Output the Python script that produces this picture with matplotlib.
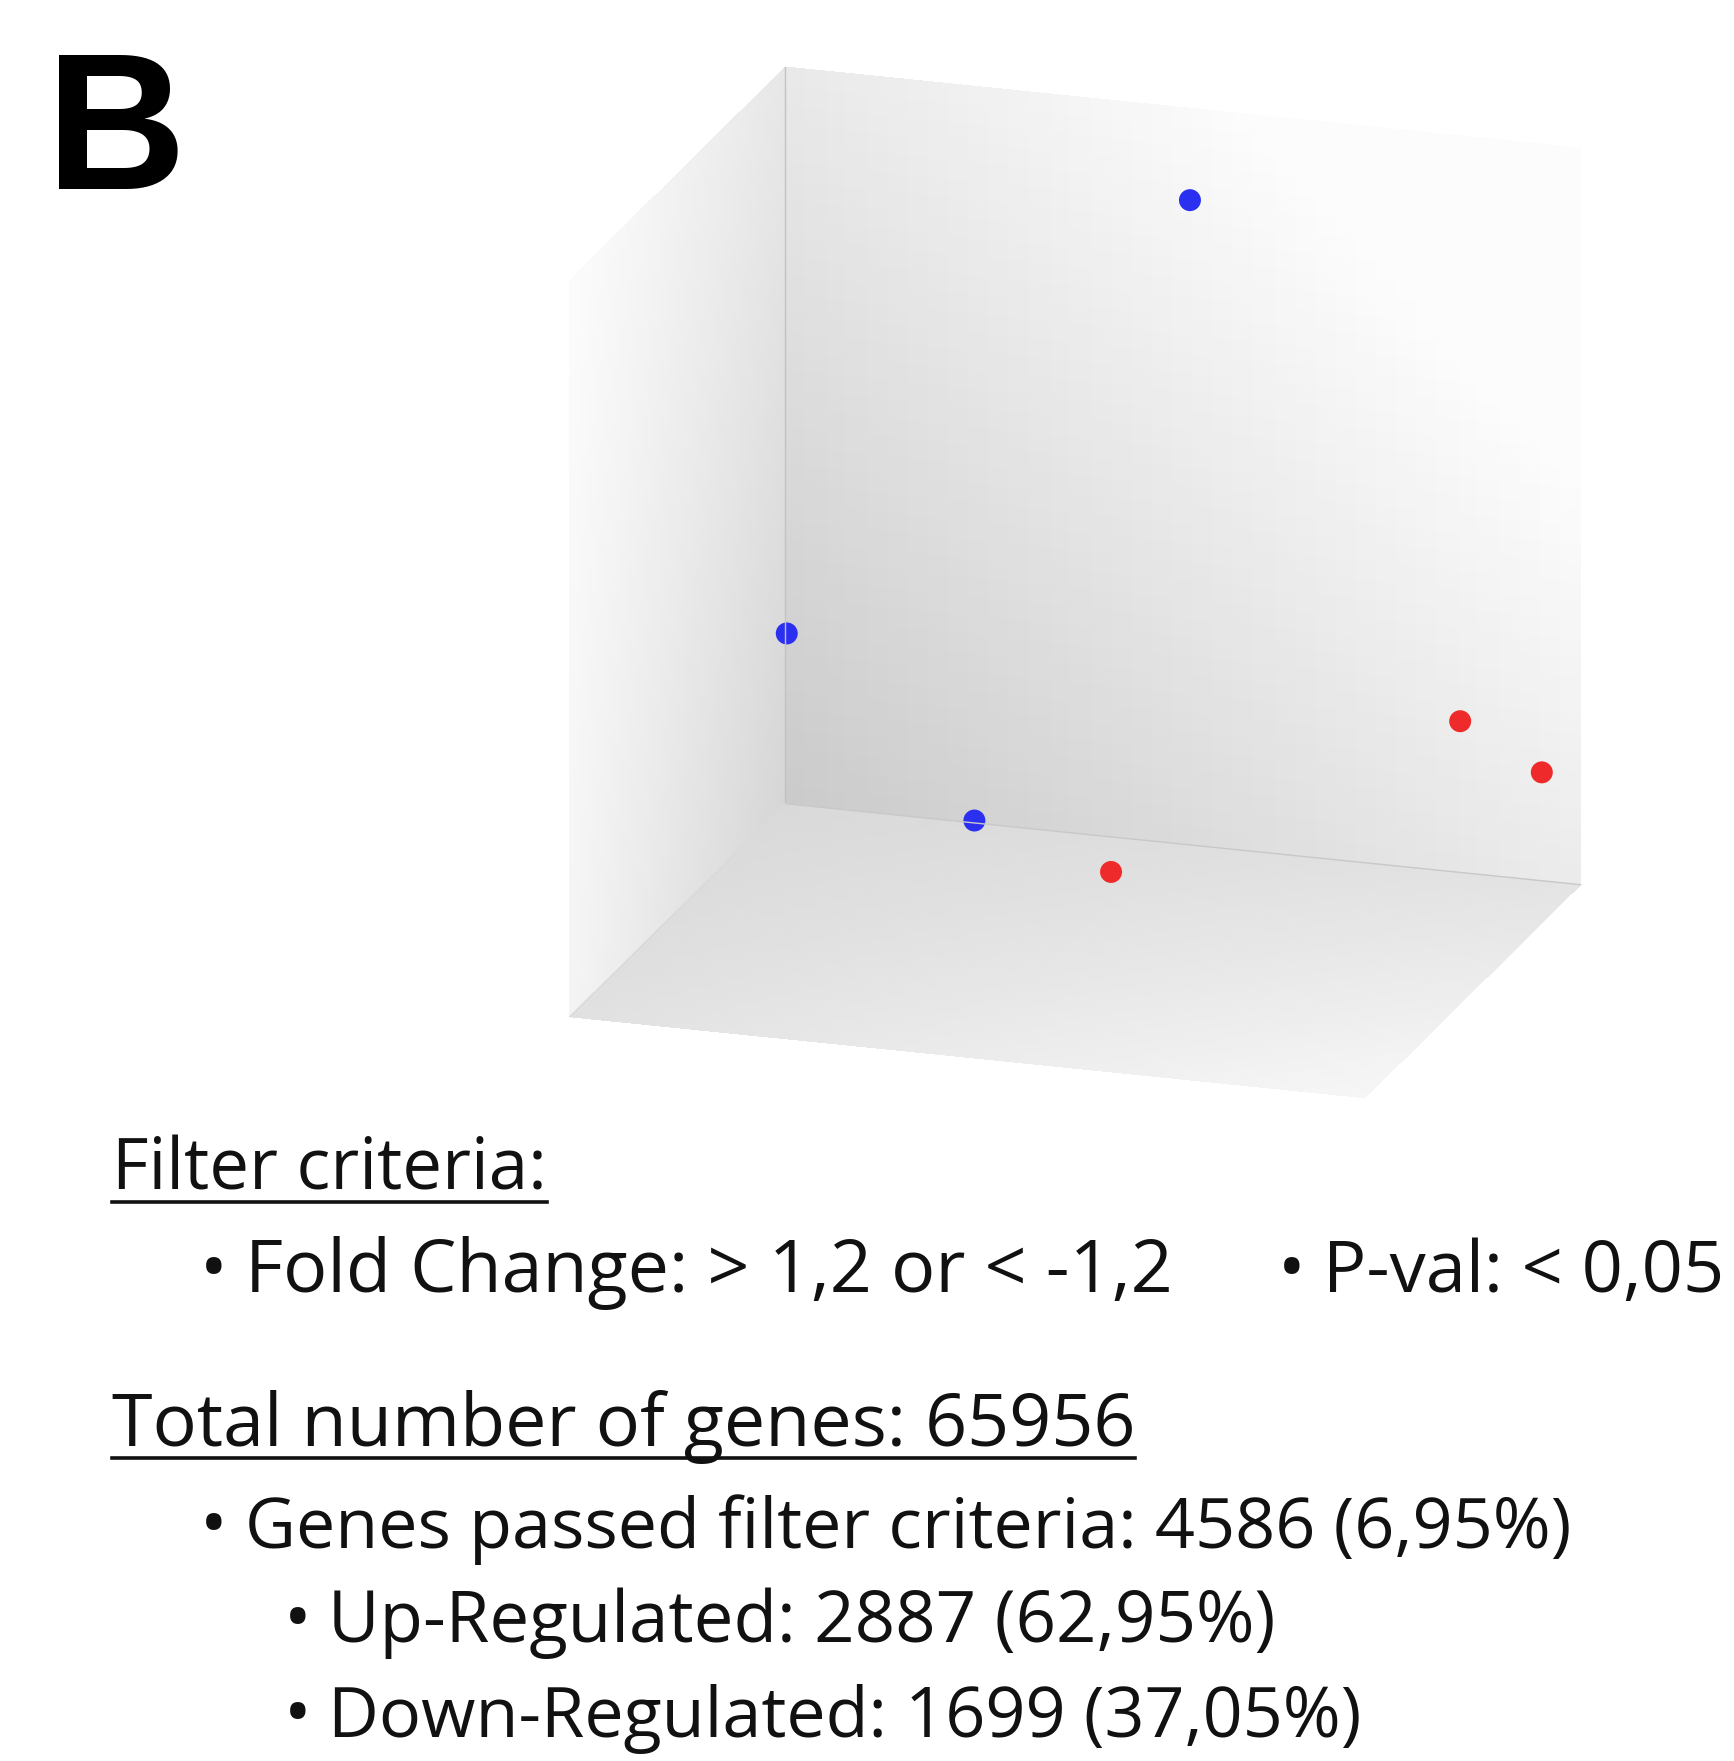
import numpy as np
import matplotlib
matplotlib.use('Agg')
import matplotlib.pyplot as plt
from mpl_toolkits.mplot3d import proj3d

# ---------------------------------------------
# PCA scores of the six samples (box units 0..1)
# ---------------------------------------------
sample_group = ['control', 'control', 'control', 'treated', 'treated', 'treated']
pc1 = [0.563, 0.083, 0.319, 0.518, 0.930, 0.992]
pc2 = [0.80, 0.70, 0.70, 0.60, 0.70, 0.85]
pc3 = [0.939, 0.327, 0.099, 0.080, 0.301, 0.195]
group_colors = {'control': '#2b2ff0', 'treated': '#ee2a2a'}

# filter summary
fold_change = '1,2'
p_value = '0,05'
total_genes = 65956
passed_genes = 4586
up_genes = 2887
down_genes = 1699


def pct(a, b):
    return f"{100 * a / b:.2f}".replace('.', ',')


W, H = 1734, 1761
fig = plt.figure(figsize=(W / 100, H / 100), dpi=100)
plt.rcParams['font.family'] = ['Open Sans', 'DejaVu Sans']

#--------------------
# 3D box with the PCA
#--------------------
ax = fig.add_axes([0.3, 0.4, 0.6, 0.6], projection='3d', computed_zorder=False)
ax.set_proj_type('ortho')
ax.view_init(elev=18.5, azim=-72.2)
ax.set_box_aspect((743.5, 628, 691.7))
ax.set_xlim(0, 1)
ax.set_ylim(0, 1)
ax.set_zlim(0, 1)
ax.set_axis_off()

n = 40
g = np.linspace(0, 1, n)
A, B = np.meshgrid(g, g)
one = np.ones_like(A)
zero = np.zeros_like(A)

# back wall (y = 1): A -> x, B -> z
back = np.clip(0.795 + 0.13 * A + 0.12 * B, 0, 0.985)
# left wall (x = 0): A -> y, B -> z
left = np.clip(0.955 + 0.03 * B - A * (0.12 - 0.04 * B), 0, 0.985)
# floor (z = 0): A -> x, B -> y
floor = np.clip(0.85 + 0.04 * A + (1 - B) * (0.03 + 0.045 * A), 0, 0.985)

kw = dict(rcount=n, ccount=n, shade=False, linewidth=0, antialiased=False)
ax.plot_surface(A, one, B, facecolors=plt.cm.gray(back), **kw)
ax.plot_surface(zero, A, B, facecolors=plt.cm.gray(left), **kw)
ax.plot_surface(A, B, zero, facecolors=plt.cm.gray(floor), **kw)

# faint corner edges
ax.plot([0, 0], [1, 1], [0, 1], color='#c2c2c2', lw=1.0)
ax.plot([0, 1], [1, 1], [0, 0], color='#c8c8c8', lw=1.0)
ax.plot([0, 0], [0, 1], [0, 0], color='#dadada', lw=1.0)

ax.scatter(pc1, pc2, pc3, c=[group_colors[s] for s in sample_group],
           s=250, depthshade=False, edgecolors='none')

# fit the box onto its place in the figure (pixel targets, top-origin)
corners = np.array([[0, 1, 0], [1, 1, 0], [0, 1, 1], [0, 0, 0], [0, 0, 1], [1, 0, 0]], float)
targets = np.array([[786, 806], [1581, 887], [784, 70], [570, 1020], [570, 275], [1365, 1092]], float)
targets[:, 1] = H - targets[:, 1]

for _ in range(2):
    fig.canvas.draw()
    xs, ys, _z = proj3d.proj_transform(corners[:, 0], corners[:, 1], corners[:, 2], ax.get_proj())
    p = ax.transData.transform(np.c_[xs, ys])
    pm, tm = p.mean(0), targets.mean(0)
    s = ((p - pm) * (targets - tm)).sum() / ((p - pm) ** 2).sum()
    t = tm - s * pm
    pos = ax.get_position()
    cx, cy = (pos.x0 + pos.width / 2) * W, (pos.y0 + pos.height / 2) * H
    wpx, hpx = pos.width * W * s, pos.height * H * s
    ncx, ncy = s * cx + t[0], s * cy + t[1]
    ax.set_position([(ncx - wpx / 2) / W, (ncy - hpx / 2) / H, wpx / W, hpx / H])

#------
# Texts
#------
def put(x, y, s, fs=53, **kws):
    return fig.text(x / W, 1 - y / H, s, fontsize=fs, va='baseline', ha='left',
                    color='#111111', **kws)


fig.text(46 / W, 1 - 189 / H, 'B', fontsize=140, fontweight='bold',
         family=['Liberation Sans', 'DejaVu Sans'], va='baseline', ha='left')

t_filter = put(112, 1190, 'Filter criteria:', fs=51)
put(200, 1292, '•')
put(245, 1292, f'Fold Change: > {fold_change} or < -{fold_change}')
put(1278, 1292, '•')
put(1323, 1292, f'P-val: < {p_value}', fs=52)

t_total = put(112, 1446, f'Total number of genes: {total_genes}')
put(200, 1548, '•')
put(245, 1548, f'Genes passed filter criteria: {passed_genes} ({pct(passed_genes, total_genes)}%)', fs=50.5)
put(284, 1642, '•')
put(328, 1642, f'Up-Regulated: {up_genes} ({pct(up_genes, passed_genes)}%)', fs=51)
put(284, 1737, '•')
put(328, 1737, f'Down-Regulated: {down_genes} ({pct(down_genes, passed_genes)}%)', fs=50.5)

# underline the two headers
fig.canvas.draw()
r = fig.canvas.get_renderer()
for tx in (t_filter, t_total):
    bb = tx.get_window_extent(r)
    yb = tx.get_position()[1] - 12 / H
    fig.add_artist(plt.Line2D([bb.x0 / W, bb.x1 / W], [yb, yb], color='#111111', lw=2.6))

fig.savefig('out.png', dpi=100)
